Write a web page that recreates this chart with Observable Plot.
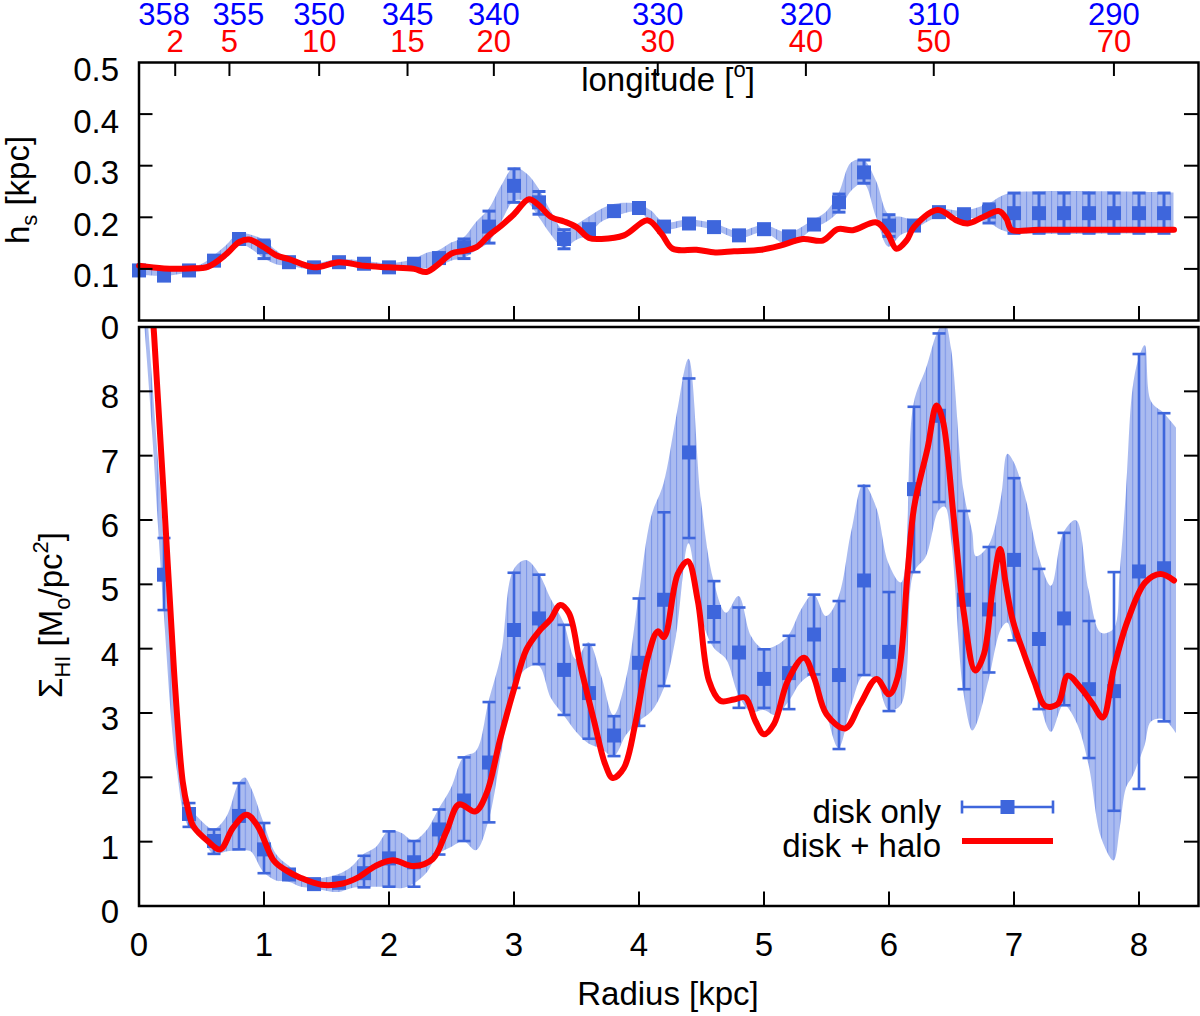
<!DOCTYPE html>
<html><head><meta charset="utf-8">
<script src="https://cdn.jsdelivr.net/npm/d3@7"></script>
<script src="https://cdn.jsdelivr.net/npm/@observablehq/plot@0.6"></script>
<style>
body{margin:0;background:#fff;}
#wrap{position:relative;width:1200px;height:1016px;background:#fff;overflow:hidden;}
#wrap svg{position:absolute;left:0;top:0;}
</style></head><body><div id="wrap"></div>
<script>
// ---------------- DATA ----------------
// top panel: scale height h_s [kpc], disk only (squares with error bars)
const hsR   = [0,0.2,0.4,0.6,0.8,1.0,1.2,1.4,1.6,1.8,2.0,2.2,2.4,2.6,2.8,3.0,3.2,3.4,3.6,3.8,4.0,4.2,4.4,4.6,4.8,5.0,5.2,5.4,5.6,5.8,6.0,6.2,6.4,6.6,6.8,7.0,7.2,7.4,7.6,7.8,8.0,8.2];
const hsVal = [0.097,0.087,0.097,0.116,0.158,0.142,0.113,0.103,0.113,0.110,0.103,0.110,0.121,0.142,0.182,0.261,0.229,0.158,0.177,0.212,0.218,0.182,0.188,0.181,0.165,0.177,0.163,0.186,0.229,0.287,0.184,0.184,0.210,0.206,0.211,0.208,0.208,0.208,0.208,0.208,0.208,0.208];
const hsLo  = [0.092,0.082,0.092,0.110,0.150,0.120,0.107,0.098,0.108,0.105,0.098,0.105,0.112,0.120,0.150,0.229,0.206,0.139,0.168,0.205,0.212,0.176,0.182,0.175,0.159,0.171,0.155,0.178,0.210,0.266,0.163,0.176,0.203,0.199,0.189,0.169,0.169,0.169,0.169,0.169,0.169,0.169];
const hsHi  = [0.104,0.094,0.104,0.122,0.166,0.156,0.120,0.108,0.118,0.115,0.108,0.115,0.130,0.158,0.212,0.294,0.250,0.176,0.186,0.219,0.224,0.188,0.194,0.187,0.171,0.183,0.171,0.194,0.245,0.311,0.205,0.192,0.217,0.213,0.226,0.247,0.247,0.247,0.247,0.247,0.247,0.247];
// top panel: shaded uncertainty band
const hsBandR  = [0,0.2,0.4,0.5,0.6, 0.7,0.8,0.9,1.0,1.1, 1.2,1.4,1.6,1.8,2.0, 2.2,2.3,2.4,2.5,2.6, 2.7,2.8,2.9,3.0,3.1, 3.2,3.3,3.4,3.5,3.6, 3.7,3.8,4.0,4.1,4.2, 4.4,4.6,4.8,5.0,5.2, 5.4,5.5,5.6,5.7,5.8, 5.9,6.0,6.1,6.2,6.4, 6.6,6.8,6.9,7.0,8.28];
const hsBandLo = [0.088,0.085,0.092,0.095,0.105, 0.120,0.148,0.138,0.120,0.108, 0.105,0.098,0.105,0.102,0.098, 0.100,0.100,0.105,0.115,0.120, 0.135,0.150,0.190,0.230,0.230, 0.200,0.165,0.140,0.155,0.165, 0.190,0.200,0.210,0.190,0.175, 0.182,0.175,0.158,0.170,0.145, 0.178,0.190,0.210,0.250,0.265, 0.200,0.142,0.165,0.175,0.200, 0.200,0.189,0.175,0.169,0.169];
const hsBandHi = [0.110,0.100,0.104,0.108,0.125, 0.145,0.168,0.165,0.156,0.135, 0.120,0.110,0.118,0.115,0.110, 0.118,0.130,0.135,0.150,0.160, 0.190,0.215,0.260,0.295,0.285, 0.255,0.210,0.175,0.185,0.200, 0.215,0.225,0.225,0.212,0.190, 0.195,0.188,0.172,0.184,0.170, 0.195,0.210,0.245,0.305,0.310, 0.270,0.205,0.200,0.195,0.215, 0.212,0.226,0.240,0.247,0.247];
// top panel: disk + halo
const hsHaloR = [0,0.2,0.4,0.55,0.7, 0.8,0.88,1.0,1.1,1.2, 1.4,1.6,1.8,2.0,2.2, 2.3,2.4,2.5,2.6,2.7, 2.8,2.9,3.0,3.12,3.2, 3.3,3.4,3.5,3.6,3.7, 3.88,4.07,4.18,4.27,4.46, 4.61,4.76,4.98,5.13,5.31, 5.47,5.59,5.71,5.9,5.99, 6.06,6.14,6.2,6.39,6.54, 6.63,6.75,6.88,6.94,6.98, 7.2,8.28];
const hsHaloV = [0.106,0.101,0.101,0.104,0.129, 0.152,0.157,0.142,0.126,0.119, 0.103,0.113,0.106,0.103,0.100, 0.094,0.110,0.130,0.135,0.142, 0.165,0.184,0.206,0.235,0.223, 0.200,0.192,0.181,0.160,0.158, 0.165,0.194,0.168,0.139,0.137, 0.132,0.134,0.137,0.145,0.158, 0.155,0.177,0.175,0.190,0.168, 0.139,0.155,0.181,0.214,0.194, 0.188,0.200,0.212,0.197,0.176, 0.176,0.176];

// bottom panel: surface density Sigma_HI [Msun/pc^2], disk only
const sigR   = [0.2,0.4,0.6,0.8,1.0, 1.2,1.4,1.6,1.8,2.0, 2.2,2.4,2.6,2.8,3.0, 3.2,3.4,3.6,3.8,4.0, 4.2,4.4,4.6,4.8,5.0, 5.2,5.4,5.6,5.8,6.0, 6.2,6.4,6.6,6.8,7.0, 7.2,7.4,7.6,7.8,8.0, 8.2];
const sigVal = [5.15,1.43,1.01,1.40,0.88, 0.49,0.34,0.36,0.51,0.74, 0.68,1.19,1.64,2.23,4.29, 4.47,3.67,3.31,2.65,3.78, 4.76,7.05,4.57,3.94,3.53, 3.62,4.22,3.59,5.06,3.95, 6.48,7.62,4.76,4.61,5.38, 4.15,4.47,3.37,3.34,5.20, 5.25];
const sigLo  = [4.60,1.23,0.81,0.88,0.51, 0.44,0.30,0.32,0.29,0.30, 0.30,0.80,1.01,1.30,3.39, 3.76,2.97,2.60,2.33,2.80, 3.42,5.72,4.10,3.08,3.08, 3.06,3.60,2.44,3.59,3.03, 5.19,6.28,3.37,3.63,4.13, 3.06,3.12,2.30,1.48,1.82, 2.87];
const sigHi  = [5.72,1.60,1.19,1.91,1.29, 0.55,0.38,0.40,0.78,1.16, 1.01,1.50,2.31,3.17,5.18, 5.15,4.37,4.06,2.95,4.78, 6.12,8.20,5.05,4.64,3.99, 4.20,4.84,4.74,6.53,4.88, 7.76,8.90,6.14,5.58,6.65, 5.24,5.80,4.43,5.19,8.58, 7.66];
// bottom panel: shaded uncertainty band
const sigBandR  = [0.0,0.1,0.2,0.3,0.4,0.5,0.6,0.7,0.8,0.85, 0.9,1.0,1.1,1.2,1.3,1.4,1.5,1.6,1.7,1.8, 1.9,2.0,2.1,2.2,2.3,2.4,2.5,2.6,2.7,2.8, 2.9,3.0,3.1,3.2,3.3,3.4,3.5,3.6,3.7,3.8, 3.9,4.0,4.1,4.2,4.3,4.4,4.5,4.6,4.7,4.8, 4.9,5.0,5.1,5.2,5.3,5.4,5.5,5.6,5.7,5.8, 5.9,6.0,6.1,6.2,6.3,6.4,6.45,6.5,6.6,6.67, 6.7,6.8,6.9,6.95,7.0,7.1,7.2,7.3,7.4,7.5, 7.6,7.7,7.8,7.85,7.9,7.95,8.0,8.05,8.1,8.2, 8.3];
const sigBandLo = [10.2,7.6,4.6,2.2,1.23,1.09,0.80,0.84,0.86,0.86, 0.84,0.52,0.39,0.37,0.29,0.27,0.23,0.21,0.27,0.29, 0.29,0.29,0.27,0.34,0.50,0.80,0.91,1.00,0.86,1.32, 2.35,3.37,3.68,3.73,3.22,2.96,2.70,2.52,2.44,2.32, 2.65,2.86,3.01,3.37,4.19,5.63,4.50,4.01,3.83,3.27, 3.01,3.04,2.96,3.17,3.47,3.58,3.00,2.45,3.10,3.58, 3.50,3.04,3.12,5.17,5.43,6.14,6.20,5.70,3.30,2.72, 2.80,3.50,4.30,4.40,4.14,3.89,3.22,2.70,3.12,2.86, 2.19,1.06,0.70,1.21,1.83,2.00,2.24,2.50,2.86,2.90, 2.68];
const sigBandHi = [11.0,8.4,5.72,3.0,1.60,1.32,1.19,1.37,1.90,1.99, 1.83,1.29,0.80,0.62,0.47,0.42,0.44,0.49,0.60,0.80, 0.91,1.16,1.13,1.01,1.16,1.50,1.83,2.31,2.40,3.17, 3.90,5.22,5.37,5.17,4.76,4.40,3.83,4.09,3.58,2.96, 3.53,4.80,6.04,6.56,7.58,8.50,6.30,5.05,4.55,4.81, 4.19,3.99,4.04,4.20,4.60,4.84,4.50,4.80,5.80,6.55, 6.20,5.32,5.02,7.80,8.35,8.95,9.05,8.66,6.45,5.80, 5.43,5.60,6.35,7.02,6.90,6.30,5.43,4.97,5.80,5.99, 4.91,4.24,4.30,5.20,6.45,8.00,8.50,8.71,7.84,7.66, 7.43];
// bottom panel: disk + halo
const sigHaloR = [0.10,0.12,0.26,0.29,0.35,0.39,0.435,0.55,0.65,0.75, 0.86,0.95,1.08,1.18,1.29,1.46,1.63,1.75,1.89,2.03, 2.20,2.35,2.46,2.56,2.69,2.78,2.89,3.00,3.10,3.20, 3.29,3.37,3.44,3.53,3.64,3.73,3.79,3.88,3.97,4.07, 4.15,4.20,4.31,4.39,4.47,4.56,4.65,4.76,4.85,4.93, 5.00,5.08,5.19,5.32,5.40,5.50,5.65,5.77,5.90,6.00, 6.07,6.15,6.20,6.31,6.38,6.43,6.52,6.60,6.69,6.76, 6.83,6.89,6.93,6.99,7.08,7.16,7.25,7.35,7.43,7.53, 7.63,7.71,7.80,7.91,8.05,8.17,8.28];
const sigHaloV = [9.40,8.90,4.32,3.37,1.93,1.52,1.24,1.01,0.88,1.21, 1.42,1.24,0.70,0.55,0.44,0.33,0.35,0.44,0.62,0.71, 0.62,0.73,1.16,1.58,1.47,1.75,2.60,3.37,3.99,4.27, 4.45,4.68,4.55,3.75,2.88,2.20,1.99,2.15,2.83,3.86, 4.27,4.18,5.16,5.36,4.75,3.50,3.19,3.21,3.24,2.88, 2.67,2.83,3.50,3.86,3.55,2.98,2.76,3.14,3.53,3.29, 3.56,5.21,6.19,7.13,7.78,7.55,5.99,4.54,3.66,3.92, 4.95,5.55,5.06,4.44,3.92,3.50,3.11,3.14,3.58,3.40, 3.14,2.93,3.71,4.44,5.03,5.16,5.06];

// axis ticks
const radiusTicks   = [0,1,2,3,4,5,6,7,8];
const hsTicks       = [0,0.1,0.2,0.3,0.4,0.5];
const sigTicks      = [0,1,2,3,4,5,6,7,8];
const lonOffsets    = [2,5,10,15,20,30,40,50,70];            // red labels
const lonLabels     = [358,355,350,345,340,330,320,310,290]; // blue labels
const R0 = 8.3; // kpc, sun–GC distance used for tangent-point radius R = R0 sin(l)

// ---------------- STYLE ----------------
const FONT = "'Liberation Sans', Arial, Helvetica, sans-serif";
const FS = 33, FS_TOP = 31;
const BLUE = "#3e66dc", BAND = "#aabbf0", STRIPE = "#7b95e8", RED = "#ff0000";
const W = 1200, H = 1016, ML = 138.5, MR = 2;
const X_DOMAIN = [0, 8.476];
const TOP = {y0: 62, y1: 320};
const BOT = {y0: 326.5, y1: 905.5};
const FW = W - ML - MR;
const TICK = 14;

const zip = (r, a, b, c) => r.map((x, i) => ({r: x, v: a[i], lo: b[i], hi: c[i]}));
const hs = zip(hsR, hsVal, hsLo, hsHi);
const hsBand = hsBandR.map((r, i) => ({r, lo: hsBandLo[i], hi: hsBandHi[i]}));
const hsHalo = hsHaloR.map((r, i) => ({r, v: hsHaloV[i]}));
const sig = zip(sigR, sigVal, sigLo, sigHi);
const sigBand = sigBandR.map((r, i) => ({r, lo: sigBandLo[i], hi: sigBandHi[i]}));
const sigHalo = sigHaloR.map((r, i) => ({r, v: sigHaloV[i]}));
const lon = lonOffsets.map((l, i) => ({r: R0 * Math.sin(l * Math.PI / 180), red: String(l), blue: String(lonLabels[i])}));
const blueNudge = {"358": -11, "355": 9};

const capSymbol = {draw(ctx, size) { const w = Math.sqrt(size / Math.PI); ctx.moveTo(-w, 0); ctx.lineTo(w, 0); }};

function errorMarks(data, sw) {
  return [
    Plot.ruleX(data, {x: "r", y1: "lo", y2: "hi", stroke: BLUE, strokeWidth: sw}),
    Plot.dot(data, {x: "r", y: "lo", symbol: capSymbol, r: 6.5, fill: "none", stroke: BLUE, strokeWidth: sw}),
    Plot.dot(data, {x: "r", y: "hi", symbol: capSymbol, r: 6.5, fill: "none", stroke: BLUE, strokeWidth: sw}),
    Plot.dot(data, {x: "r", y: "v", symbol: "square", r: 7.9, fill: BLUE, stroke: "none"})
  ];
}
function frameTicks(yInner, xInner, ph, extra) {
  return [
    Plot.frame({stroke: "black", strokeWidth: 2.5}),
    Plot.tickY(yInner, {y: d => d, insetRight: FW - TICK, stroke: "black", strokeWidth: 2}),
    Plot.tickY(yInner, {y: d => d, insetLeft: FW - TICK, stroke: "black", strokeWidth: 2}),
    Plot.tickX(xInner, {x: d => d, insetTop: ph - TICK, stroke: "black", strokeWidth: 2}),
    ...extra
  ];
}
function addStripes(svg, id) {
  const sx = svg.scale("x");
  const step = sx.apply(0.05) - sx.apply(0);
  const defs = d3.select(svg).insert("defs", ":first-child");
  const p = defs.append("pattern").attr("id", id).attr("patternUnits", "userSpaceOnUse")
    .attr("x", sx.apply(0)).attr("y", 0).attr("width", step).attr("height", 10);
  p.append("rect").attr("width", step).attr("height", 10).attr("fill", BAND);
  p.append("rect").attr("x", 0).attr("width", 1).attr("height", 10).attr("fill", STRIPE);
}
const svgStyle = {background: "none", fontFamily: FONT, fontSize: FS + "px", overflow: "visible", color: "black"};
const txt = {fontSize: FS, lineAnchor: "middle"};
const txtTop = {fontSize: FS_TOP, lineAnchor: "middle"};

// ---------------- TOP PANEL ----------------
const topH = TOP.y1 - TOP.y0;
const topPlot = Plot.plot({
  width: W, height: H, marginLeft: ML, marginRight: MR, marginTop: TOP.y0, marginBottom: H - TOP.y1,
  x: {domain: X_DOMAIN, axis: null},
  y: {domain: [0, 0.5], axis: null},
  style: svgStyle,
  marks: [
    Plot.areaY(hsBand, {x: "r", y1: "lo", y2: "hi", fill: "url(#stripesTop)", curve: "catmull-rom"}),
    ...errorMarks(hs, 3),
    Plot.line(hsHalo, {x: "r", y: "v", stroke: RED, strokeWidth: 6, curve: "catmull-rom"}),
    ...frameTicks([0.1, 0.2, 0.3, 0.4], radiusTicks.slice(1), topH, [
      Plot.tickX(lon, {x: "r", insetBottom: topH - TICK, stroke: "black", strokeWidth: 2})
    ]),
    Plot.text(hsTicks, {...txt, y: d => d, text: d => d === 0 ? "0" : d.toFixed(1), frameAnchor: "left", textAnchor: "end", dx: -20, dy: 8, fill: "black"}),
    Plot.text(lon, {...txtTop, x: "r", text: "red", frameAnchor: "top", dy: -20, fill: "#ff0000"}),
    Plot.text(lon.filter(d => !blueNudge[d.blue]), {...txtTop, x: "r", text: "blue", frameAnchor: "top", dy: -47, fill: "#0000ff"}),
    ...lon.filter(d => blueNudge[d.blue]).map(d => Plot.text([d], {...txtTop, x: "r", text: "blue", frameAnchor: "top", dy: -47, dx: blueNudge[d.blue], fill: "#0000ff"}))
  ]
});

// ---------------- BOTTOM PANEL ----------------
const botH = BOT.y1 - BOT.y0;
const botPlot = Plot.plot({
  width: W, height: H, marginLeft: ML, marginRight: MR, marginTop: BOT.y0, marginBottom: H - BOT.y1,
  x: {domain: X_DOMAIN, axis: null},
  y: {domain: [0, 9], axis: null},
  style: svgStyle,
  marks: [
    Plot.areaY(sigBand, {x: "r", y1: "lo", y2: "hi", fill: "url(#stripesBot)", curve: "catmull-rom", clip: true}),
    ...errorMarks(sig, 2.6),
    Plot.line(sigHalo, {x: "r", y: "v", stroke: RED, strokeWidth: 6, curve: "catmull-rom", clip: true}),
    ...frameTicks(sigTicks.slice(1), radiusTicks.slice(1), botH, []),
    Plot.text(sigTicks, {...txt, y: d => d, text: d => String(d), frameAnchor: "left", textAnchor: "end", dx: -20, dy: 6.5, fill: "black"}),
    Plot.text(radiusTicks, {...txt, x: d => d, text: d => String(d), frameAnchor: "bottom", dy: 39.5, fill: "black"})
  ]
});

const wrap = document.getElementById("wrap");
wrap.appendChild(topPlot);
wrap.appendChild(botPlot);
addStripes(topPlot, "stripesTop");
addStripes(botPlot, "stripesBot");

// ---------------- TITLES & LEGEND ----------------
const g = d3.select(botPlot).append("g").attr("font-family", FONT).attr("font-size", FS).attr("fill", "black");
function rich(parent, parts) {
  let cur = 0;
  for (const [s, kind] of parts) {
    const target = kind === "sub" ? 8 : kind === "sup" ? -14 : 0;
    parent.append("tspan").attr("font-size", kind ? 22 : FS).attr("dy", target - cur).text(s);
    cur = target;
  }
}
rich(g.append("text").attr("x", 668).attr("y", 1005).attr("text-anchor", "middle"), [["Radius [kpc]"]]);
rich(g.append("text").attr("x", 668).attr("y", 91).attr("text-anchor", "middle"), [["longitude ["], ["o", "sup"], ["]"]]);
rich(g.append("text").attr("transform", "translate(29,190) rotate(-90)").attr("text-anchor", "middle"), [["h"], ["s", "sub"], [" [kpc]"]]);
rich(g.append("text").attr("transform", "translate(62,615) rotate(-90)").attr("text-anchor", "middle"), [["Σ"], ["HI", "sub"], [" [M"], ["o", "sub"], ["/pc"], ["2", "sup"], ["]"]]);

g.append("text").attr("x", 941).attr("y", 823).attr("text-anchor", "end").text("disk only");
g.append("text").attr("x", 941).attr("y", 857).attr("text-anchor", "end").text("disk + halo");
const lg = g.append("g").attr("stroke", BLUE).attr("stroke-width", 2.6);
lg.append("line").attr("x1", 962).attr("x2", 1053).attr("y1", 807).attr("y2", 807);
lg.append("line").attr("x1", 962).attr("x2", 962).attr("y1", 800.5).attr("y2", 813.5);
lg.append("line").attr("x1", 1053).attr("x2", 1053).attr("y1", 800.5).attr("y2", 813.5);
g.append("rect").attr("x", 1000.5).attr("y", 800).attr("width", 14).attr("height", 14).attr("fill", BLUE);
g.append("line").attr("x1", 962).attr("x2", 1053).attr("y1", 841).attr("y2", 841).attr("stroke", RED).attr("stroke-width", 6);
</script>
</body></html>
